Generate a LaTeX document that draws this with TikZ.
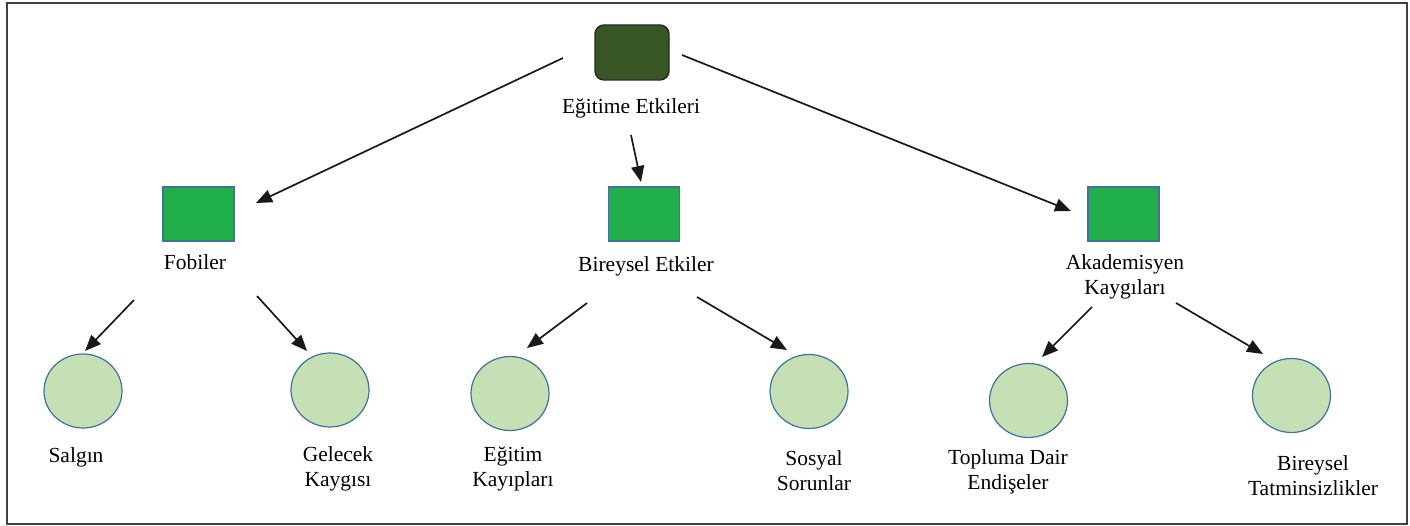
\documentclass[tikz,border=0pt]{standalone}
\usepackage{fontspec}
\setmainfont{Liberation Serif}
\usetikzlibrary{arrows.meta}
\definecolor{topgreen}{HTML}{375623}
\definecolor{midgreen}{HTML}{21AF4C}
\definecolor{leafgreen}{HTML}{C5E0B4}
\definecolor{edgeblue}{HTML}{41719C}
\tikzset{
  topbox/.style={draw=black!85, line width=1.4pt, fill=topgreen, rounded corners=9pt, minimum width=74pt, minimum height=55pt, inner sep=0pt},
  midbox/.style={draw=edgeblue, line width=1.1pt, fill=midgreen, minimum width=71pt, minimum height=54pt, inner sep=0pt},
  leaf/.style={draw=edgeblue, line width=1.2pt, fill=leafgreen, ellipse, minimum width=78pt, minimum height=74pt, inner sep=0pt},
  lbl/.style={font=\fontsize{21.5}{25}\selectfont, align=center, inner sep=0pt, text=black},
  arr/.style={draw=black!90, line width=1.7pt, -{Triangle[length=16pt,width=13pt]}}
}
\usetikzlibrary{shapes.geometric}
\begin{document}
\begin{tikzpicture}[x=1pt,y=-1pt]
\useasboundingbox (0,0) rectangle (1410,526);
\draw[draw=black!75, line width=1.3pt] (7,3) rectangle (1407,524);
% nodes
\node[topbox] (top) at (632,52.5) {};
\node[lbl] (topl) at (631,108) {Eğitime Etkileri};
\node[midbox] (fob) at (198.5,214) {};
\node[lbl] (fobl) at (195,262) {Fobiler};
\node[midbox] (bir) at (644,214) {};
\node[lbl] (birl) at (646,266) {Bireysel Etkiler};
\node[midbox] (aka) at (1123.5,214) {};
\node[lbl] (akal) at (1125,276.5) {Akademisyen\\Kaygıları};
\node[leaf] (salgin) at (83,391) {};
\node[lbl] (salginl) at (76,457) {Salgın};
\node[leaf] (gelecek) at (330,390) {};
\node[lbl] (gelecekl) at (338,469) {Gelecek\\Kaygısı};
\node[leaf] (egitim) at (510,393.5) {};
\node[lbl] (egitiml) at (513,469) {Eğitim\\Kayıpları};
\node[leaf] (sosyal) at (809,391.5) {};
\node[lbl] (sosyall) at (814,471) {Sosyal\\Sorunlar};
\node[leaf] (toplum) at (1028.5,400.5) {};
\node[lbl] (topluml) at (1008,472) {Topluma Dair\\Endişeler};
\node[leaf] (tatmin) at (1291.5,395.5) {};
\node[lbl] (tatminl) at (1313,476) {Bireysel\\Tatminsizlikler};
% arrow end points
\coordinate (a1s) at (563,58);   \coordinate (a1e) at (256,203);
\coordinate (a2s) at (631,135);  \coordinate (a2e) at (641,182);
\coordinate (a3s) at (682,55);   \coordinate (a3e) at (1071,211);
\coordinate (b1s) at (134,300);  \coordinate (b1e) at (85,351);
\coordinate (b2s) at (257,296);  \coordinate (b2e) at (307,351);
\coordinate (c1s) at (587,303);  \coordinate (c1e) at (527,348);
\coordinate (c2s) at (697,297);  \coordinate (c2e) at (787,350);
\coordinate (d1s) at (1092,307); \coordinate (d1e) at (1042,357);
\coordinate (d2s) at (1176,303); \coordinate (d2e) at (1263,354);
\draw[arr] (a1s) -- (a1e);
\draw[arr] (a2s) -- (a2e);
\draw[arr] (a3s) -- (a3e);
\draw[arr] (b1s) -- (b1e);
\draw[arr] (b2s) -- (b2e);
\draw[arr] (c1s) -- (c1e);
\draw[arr] (c2s) -- (c2e);
\draw[arr] (d1s) -- (d1e);
\draw[arr] (d2s) -- (d2e);
\end{tikzpicture}
\end{document}
